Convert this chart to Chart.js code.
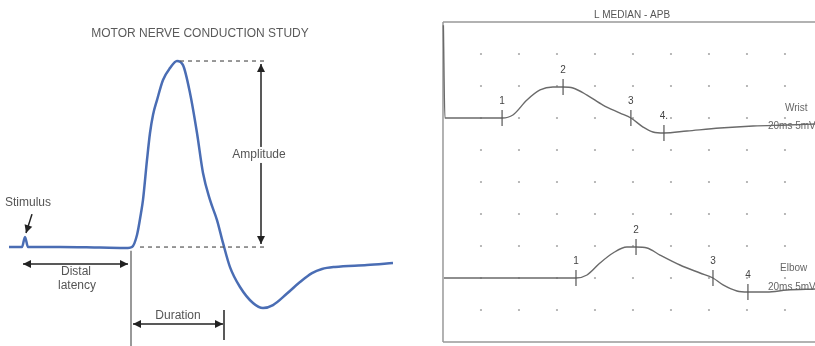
<!DOCTYPE html>
<html>
<head>
<meta charset="utf-8">
<title>Motor nerve conduction study</title>
<script src="https://cdn.jsdelivr.net/npm/chart.js@4/dist/chart.umd.min.js"></script>
<style>
    html, body { margin: 0; padding: 0; background: #fff; }
    #wrap { position: relative; width: 815px; height: 346px; overflow: hidden; }
    .panel { position: absolute; top: 0; height: 346px; }
    #panelLeft { left: 0; width: 410px; }
    #panelRight { left: 420px; width: 395px; }
</style>
</head>
<body>
<div id="wrap">
    <div class="panel" id="panelLeft"><canvas id="chartLeft"></canvas></div>
    <div class="panel" id="panelRight"><canvas id="chartRight"></canvas></div>
</div>
<script>
// --- Left diagram: compound motor action potential (time in ms, amplitude in mV)
const cmapTime = [0.9, 2.2, 2.5, 2.8, 6.0, 10.0, 12.8, 13.2, 13.7, 14.1, 14.3, 14.7, 15.0, 15.3, 15.7, 16.3, 17.0, 17.7, 18.3, 19.0,
                  19.7, 20.3, 21.0, 21.7, 22.3, 23.0, 24.0, 25.3, 26.3, 27.3, 28.7, 30.0, 31.2, 32.2, 33.5, 36.7, 39.3];
const cmapAmp = [0, 0, 0.54, 0, 0, -0.03, -0.05, 0, 0.65, 1.83, 2.53, 4.68, 6.13, 7.10, 7.90, 8.98, 9.62, 10.0, 9.78, 8.28,
                 6.13, 3.98, 2.53, 1.45, 0.22, -1.08, -2.15, -3.01, -3.28, -3.12, -2.50, -1.88, -1.40, -1.18, -1.07, -0.97, -0.86];
const cmapOnset = 13.1;      // ms
const cmapDurationEnd = 22.4; // ms

// --- Right panel: L MEDIAN - APB (time in ms, amplitude in mV relative to each baseline)
const wristTime = [0.02, 0.1, 3.11, 3.68, 4.42, 5.11, 5.79, 6.32, 6.84, 7.58, 8.42, 9.32, 9.89, 10.53, 11.05, 11.63, 12.84, 14.58, 16.32, 18.11, 19.58];
const wristAmp = [14.5, 0, 0, 0.47, 2.81, 4.38, 4.84, 4.84, 4.69, 3.59, 2.03, 0.78, 0, -1.41, -2.19, -2.34, -2.03, -1.56, -1.25, -1.09, -0.94];
const elbowTime = [0.05, 7.0, 7.58, 8.26, 8.95, 9.68, 10.16, 10.74, 11.42, 12.47, 13.53, 14.21, 14.74, 15.47, 16.05, 17.05, 18.11, 19.58];
const elbowAmp = [0, 0, 0.47, 2.34, 3.91, 4.84, 4.84, 4.69, 3.59, 2.03, 0.78, 0, -1.09, -2.03, -2.19, -2.19, -1.88, -1.72];

const wristMarkLabels = ['1', '2', '3', '4.'];
const wristMarkTime = [3.11, 6.32, 9.89, 11.63];
const wristMarkAmp = [0, 4.84, 0, -2.34];
const elbowMarkLabels = ['1', '2', '3', '4'];
const elbowMarkTime = [7.0, 10.16, 14.21, 16.05];
const elbowMarkAmp = [0, 4.84, 0, -2.19];

const gridTimes = [2, 4, 6, 8, 10, 12, 14, 16, 18];
const gridLevels = [5, 10, 15, 20, 25, 30, 35, 40, 45];

// baselines on the 0..50 mV screen (5 mV / division)
const WRIST_BASE = 35;
const ELBOW_BASE = 10;

const FONT = "'Liberation Sans', Arial, sans-serif";

function toPoints(xs, ys, offset) {
    return xs.map((t, i) => ({ x: t, y: ys[i] + (offset || 0) }));
}

function line(ctx, x1, y1, x2, y2) {
    ctx.beginPath();
    ctx.moveTo(x1, y1);
    ctx.lineTo(x2, y2);
    ctx.stroke();
}

function arrowHead(ctx, x1, y1, x2, y2, size) {
    const a = Math.atan2(y2 - y1, x2 - x1);
    const w = size * 0.5;
    ctx.beginPath();
    ctx.moveTo(x2, y2);
    ctx.lineTo(x2 - size * Math.cos(a) + w * Math.sin(a), y2 - size * Math.sin(a) - w * Math.cos(a));
    ctx.lineTo(x2 - size * Math.cos(a) - w * Math.sin(a), y2 - size * Math.sin(a) + w * Math.cos(a));
    ctx.closePath();
    ctx.fill();
}

function arrow(ctx, x1, y1, x2, y2, both) {
    line(ctx, x1, y1, x2, y2);
    arrowHead(ctx, x1, y1, x2, y2, 8);
    if (both) arrowHead(ctx, x2, y2, x1, y1, 8);
}

function label(ctx, text, x, y, opts = {}) {
    ctx.font = (opts.size || 12) + 'px ' + FONT;
    ctx.textAlign = opts.align || 'center';
    ctx.textBaseline = 'middle';
    if (opts.bg) {
        const w = ctx.measureText(text).width;
        ctx.fillStyle = '#fff';
        ctx.fillRect(x - w / 2 - 2, y - 8, w + 4, 16);
    }
    ctx.fillStyle = opts.color || '#555';
    ctx.fillText(text, x, y);
}

/**
 * Anotaciones del diagrama izquierdo
 */
const leftAnnotations = {
    id: 'leftAnnotations',
    afterDatasetsDraw(chart) {
        const { ctx, scales: { x, y } } = chart;
        const px = v => x.getPixelForValue(v);
        const py = v => y.getPixelForValue(v);
        const peak = Math.max(...cmapAmp);
        const peakTime = cmapTime[cmapAmp.indexOf(peak)];

        ctx.save();
        // title
        label(ctx, 'MOTOR NERVE CONDUCTION STUDY', 200, 34, { size: 12, color: '#5a5a5a' });

        // dashed reference lines
        ctx.strokeStyle = '#555';
        ctx.lineWidth = 1.2;
        ctx.setLineDash([4, 4]);
        line(ctx, px(peakTime) + 3, py(peak), px(26.8), py(peak));
        line(ctx, px(14.0), py(0), px(26.8), py(0));
        ctx.setLineDash([]);

        // onset vertical line
        ctx.strokeStyle = '#999';
        ctx.lineWidth = 2;
        line(ctx, px(cmapOnset), py(-0.2), px(cmapOnset), chart.height);

        ctx.strokeStyle = '#222';
        ctx.fillStyle = '#222';
        ctx.lineWidth = 1.5;
        // amplitude
        arrow(ctx, px(26.1), py(peak) + 3, px(26.1), py(0) - 3, true);
        label(ctx, 'Amplitude', px(25.9), py(4.95), { bg: true });

        // stimulus
        ctx.strokeStyle = '#222';
        ctx.fillStyle = '#222';
        arrow(ctx, px(3.2), py(1.77), px(2.6), py(0.75), false);
        label(ctx, 'Stimulus', px(0.5), py(2.37), { align: 'left' });

        // distal latency
        ctx.strokeStyle = '#222';
        ctx.fillStyle = '#222';
        arrow(ctx, px(2.3), py(-0.91), px(12.8), py(-0.91), true);
        label(ctx, 'Distal', px(7.6), py(-1.34));
        label(ctx, 'latency', px(7.7), py(-2.1));

        // duration
        ctx.strokeStyle = '#222';
        ctx.fillStyle = '#222';
        arrow(ctx, px(cmapOnset + 0.2), py(-4.14), px(cmapDurationEnd - 0.1), py(-4.14), true);
        ctx.lineWidth = 1.5;
        line(ctx, px(cmapDurationEnd), py(-3.39), px(cmapDurationEnd), py(-5.0));
        label(ctx, 'Duration', px(17.8), py(-3.71));
        ctx.restore();
    }
};

/**
 * Marco, rótulos y títulos del panel derecho
 */
const rightAnnotations = {
    id: 'rightAnnotations',
    beforeDatasetsDraw(chart) {
        const { ctx, scales: { x, y } } = chart;
        ctx.save();
        ctx.strokeStyle = '#999';
        ctx.lineWidth = 1.5;
        line(ctx, x.getPixelForValue(0), y.getPixelForValue(50), x.getPixelForValue(0), y.getPixelForValue(0));
        line(ctx, x.getPixelForValue(0), y.getPixelForValue(50), chart.width, y.getPixelForValue(50));
        line(ctx, x.getPixelForValue(0), y.getPixelForValue(0), chart.width, y.getPixelForValue(0));
        ctx.restore();
    },
    afterDatasetsDraw(chart) {
        const { ctx, scales: { x, y } } = chart;
        ctx.save();
        label(ctx, 'L MEDIAN - APB', 212, 15, { size: 10, color: '#555' });

        wristMarkTime.forEach((t, i) => {
            label(ctx, wristMarkLabels[i], x.getPixelForValue(t), y.getPixelForValue(wristMarkAmp[i] + WRIST_BASE) - 17, { size: 10, color: '#444' });
        });
        elbowMarkTime.forEach((t, i) => {
            label(ctx, elbowMarkLabels[i], x.getPixelForValue(t), y.getPixelForValue(elbowMarkAmp[i] + ELBOW_BASE) - 17, { size: 10, color: '#444' });
        });

        const wy = y.getPixelForValue(WRIST_BASE);
        const ey = y.getPixelForValue(ELBOW_BASE);
        label(ctx, 'Wrist', 365, wy - 10, { size: 10, align: 'left', color: '#666' });
        label(ctx, '20ms 5mV', 348, wy + 8, { size: 10, align: 'left', color: '#666' });
        label(ctx, 'Elbow', 360, ey - 10, { size: 10, align: 'left', color: '#666' });
        label(ctx, '20ms 5mV', 348, ey + 9, { size: 10, align: 'left', color: '#666' });
        ctx.restore();
    }
};

function hiddenScales(xMin, xMax, yMin, yMax) {
    return {
        x: { type: 'linear', display: false, min: xMin, max: xMax },
        y: { type: 'linear', display: false, min: yMin, max: yMax }
    };
}

const baseOptions = {
    responsive: true,
    maintainAspectRatio: false,
    animation: false,
    events: [],
    layout: { padding: 0, autoPadding: false },
    plugins: { legend: { display: false }, tooltip: { enabled: false }, title: { display: false } }
};

document.addEventListener('DOMContentLoaded', function() {
    initLeft();
    initRight();
});

function initLeft() {
    new Chart(document.getElementById('chartLeft'), {
        type: 'line',
        data: {
            datasets: [{
                data: toPoints(cmapTime, cmapAmp),
                borderColor: '#4a6db4',
                borderWidth: 2.5,
                pointRadius: 0,
                cubicInterpolationMode: 'monotone',
                fill: false
            }]
        },
        options: Object.assign({}, baseOptions, {
            scales: hiddenScales(0, 41, -5.32, 13.28)
        }),
        plugins: [leftAnnotations]
    });
}

function initRight() {
    const gridPoints = [];
    gridLevels.forEach(v => gridTimes.forEach(t => gridPoints.push({ x: t, y: v })));

    const trace = {
        borderColor: '#6a6a6a',
        borderWidth: 1.4,
        pointRadius: 0,
        cubicInterpolationMode: 'monotone',
        fill: false
    };
    const marks = {
        showLine: false,
        pointStyle: 'line',
        rotation: 90,
        pointRadius: 8,
        borderColor: '#555',
        borderWidth: 1.2
    };

    new Chart(document.getElementById('chartRight'), {
        type: 'line',
        data: {
            datasets: [
                Object.assign({ data: toPoints(wristMarkTime, wristMarkAmp, WRIST_BASE) }, marks),
                Object.assign({ data: toPoints(elbowMarkTime, elbowMarkAmp, ELBOW_BASE) }, marks),
                Object.assign({ data: toPoints(wristTime, wristAmp, WRIST_BASE) }, trace),
                Object.assign({ data: toPoints(elbowTime, elbowAmp, ELBOW_BASE) }, trace),
                {
                    data: gridPoints,
                    showLine: false,
                    pointStyle: 'circle',
                    pointRadius: 1.1,
                    backgroundColor: '#aaa',
                    borderWidth: 0
                }
            ]
        },
        options: Object.assign({}, baseOptions, {
            scales: hiddenScales(-1.21, 19.58, -0.625, 53.44)
        }),
        plugins: [rightAnnotations]
    });
}
</script>
</body>
</html>
